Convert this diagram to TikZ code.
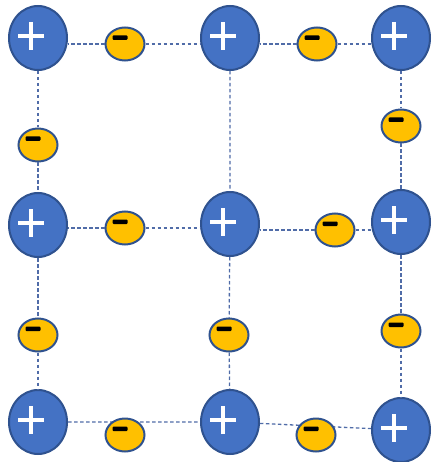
\documentclass[tikz,border=0pt]{standalone}
\usetikzlibrary{shapes.geometric}
\definecolor{pblue}{RGB}{68,114,196}
\definecolor{pedge}{RGB}{47,82,143}
\definecolor{mgold}{RGB}{255,192,0}
\definecolor{lblue}{RGB}{80,108,168}
\pgfdeclarelayer{bg}
\pgfsetlayers{bg,main}
\begin{document}
\begin{tikzpicture}[x=1pt,y=-1pt,
 posion/.style={ellipse, fill=pblue, draw=pedge, line width=2pt, minimum width=58pt, minimum height=64pt, inner sep=0pt,
   path picture={
     \draw[white,line width=4.5pt] ([shift={(-20,-2)}]path picture bounding box.center) -- ++(26,0);
     \draw[white,line width=4.5pt] ([shift={(-7,-16)}]path picture bounding box.center) -- ++(0,28);
   }},
 negion/.style={ellipse, fill=mgold, draw=pedge, line width=2pt, minimum width=39pt, minimum height=33pt, inner sep=0pt,
   path picture={
     \fill[black,rounded corners=1pt] ([shift={(-12.5,-8.5)}]path picture bounding box.center) rectangle ++(15,4.5);
   }},
 conn/.style={draw=lblue, dash pattern=on 3.5pt off 2.5pt, line width=1.3pt}]
\useasboundingbox (0,0) rectangle (433,462);
% positive ions
\node[posion] (p11) at (38,38) {};
\node[posion] (p12) at (230,38) {};
\node[posion] (p13) at (401,38) {};
\node[posion] (p21) at (38,225) {};
\node[posion] (p22) at (230,224) {};
\node[posion] (p23) at (401,222) {};
\node[posion] (p31) at (38,422) {};
\node[posion] (p32) at (230,422) {};
\node[posion] (p33) at (401,430) {};
% negative ions
\node[negion] (m1a) at (125,44) {};
\node[negion] (m1b) at (317,44) {};
\node[negion] (v1) at (38,145) {};
\node[negion] (v3) at (401,126) {};
\node[negion] (m2a) at (125,228) {};
\node[negion] (m2b) at (335,230) {};
\node[negion] (v4) at (38,335) {};
\node[negion] (v5) at (229,335) {};
\node[negion] (v6) at (401,331) {};
\node[negion] (m3a) at (125,435) {};
\node[negion] (m3b) at (316,435) {};
% connectors
\draw[conn] (m1a) -- (m1a -| p11.east);
\draw[conn] (m1a) -- (m1a -| p12.west);
\draw[conn] (m1b) -- (m1b -| p12.east);
\draw[conn] (m1b) -- (m1b -| p13.west);
\draw[conn] (m2a) -- (m2a -| p21.east);
\draw[conn] (m2a) -- (m2a -| p22.west);
\draw[conn] (m2b) -- (m2b -| p22.east);
\draw[conn] (m2b) -- (m2b -| p23.west);
\draw[conn] (p11) -- (v1) -- (p21) -- (v4) -- (p31);
\draw[conn] (p12) -- (p22) -- (v5) -- (p32);
\draw[conn] (p13) -- (v3) -- (p23) -- (v6) -- (p33);
\begin{pgfonlayer}{bg}
\draw[conn] (p31) -- (p32) -- (p33);
\end{pgfonlayer}
\end{tikzpicture}
\end{document}
